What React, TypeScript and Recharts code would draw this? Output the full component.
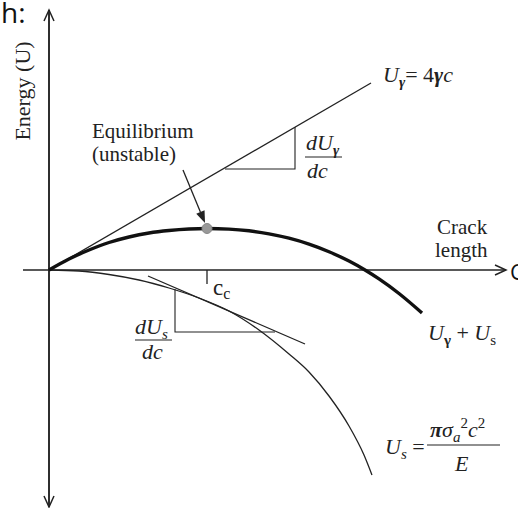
import React from 'react';
import { ComposedChart, Line, XAxis, YAxis, ReferenceLine, ReferenceDot } from 'recharts';

// Crack length c (arbitrary units) and energy U for each curve
const surfaceLineC = [0, 32.2];
const surfaceLineU = [0, 18.7];

const totalC = [0, 2, 4, 6, 8, 10, 12, 14, 15.8, 18, 20, 22, 24, 26, 28, 30, 31.6, 33, 35, 37.3];
const totalU = [0, 1.1, 2.0, 2.75, 3.3, 3.7, 3.95, 4.1, 4.15, 4.09, 3.92, 3.62, 3.18, 2.59, 1.83, 0.89, 0, -0.89, -2.35, -4.3];

const strainC = [0, 3, 6, 9, 12, 15, 18, 21, 24, 26, 28, 30, 31.5, 32.3];
const strainU = [0, -0.1, -0.45, -1.0, -1.8, -2.8, -4.1, -6.0, -8.4, -10.2, -12.6, -15.6, -18.5, -20.5];

// tangent to U_s near the critical length
const tangentC = [9.9, 25.6];
const tangentU = [-0.6, -7.4];

// slope triangles
const strainTriC = [12.6, 12.6, 22.6];
const strainTriU = [-1.9, -6.2, -6.2];
const surfaceTriC = [17.6, 24.6, 24.6];
const surfaceTriU = [10.1, 10.1, 14.3];

const criticalC = 15.8;
const criticalU = 4.15;

const zip = (xs: number[], ys: number[]) => xs.map((x, i) => ({ x, y: ys[i] }));

const INK = '#222';
const SERIF = '"Liberation Serif", "Times New Roman", serif';

type Pt = { x1: number; y1: number; x2: number; y2: number };

const arrowShape = (filled: boolean, len: number, half: number) => (p: any) => {
  const { x1, y1, x2, y2 } = p as Pt;
  const a = Math.atan2(y2 - y1, x2 - x1);
  const bx = x2 - len * Math.cos(a);
  const by = y2 - len * Math.sin(a);
  const nx = -Math.sin(a) * half;
  const ny = Math.cos(a) * half;
  return (
    <g>
      <line x1={x1} y1={y1} x2={filled ? bx : x2} y2={filled ? by : y2} stroke={INK} strokeWidth={filled ? 1.3 : 1.5} />
      {filled ? (
        <polygon points={`${x2},${y2} ${bx + nx},${by + ny} ${bx - nx},${by - ny}`} fill={INK} />
      ) : (
        <polyline points={`${bx + nx},${by + ny} ${x2},${y2} ${bx - nx},${by - ny}`} fill="none" stroke={INK} strokeWidth={1.5} />
      )}
    </g>
  );
};

const note = (key: string, x: number, y: number, draw: (cx: number, cy: number) => React.ReactNode) => (
  <ReferenceDot
    key={key}
    x={x}
    y={y}
    r={0}
    ifOverflow="visible"
    shape={(p: any) => <g>{draw(p.cx, p.cy)}</g>}
  />
);

const seg = (key: string, a: { x: number; y: number }, b: { x: number; y: number }, w = 1.2) => (
  <ReferenceLine key={key} segment={[a, b]} stroke={INK} strokeWidth={w} ifOverflow="visible" />
);

export default function App() {
  return (
    <div style={{ position: 'absolute', left: 0, top: 0, width: 518, height: 508, background: '#fff' }}>
      <ComposedChart width={518} height={508} margin={{ top: 5, right: 9, bottom: 0, left: 19 }}>
        <XAxis type="number" dataKey="x" domain={[-3, 46]} allowDataOverflow hide />
        <YAxis type="number" dataKey="y" domain={[-23.8, 26.5]} allowDataOverflow hide />

        {/* axes with open arrowheads */}
        <ReferenceLine segment={[{ x: -2.6, y: 0 }, { x: 45.7, y: 0 }]} shape={arrowShape(false, 11, 5)} ifOverflow="visible" />
        <ReferenceLine segment={[{ x: 0, y: -23.7 }, { x: 0, y: 26 }]} shape={arrowShape(false, 11, 5)} ifOverflow="visible" />
        <ReferenceLine segment={[{ x: 0, y: 26 }, { x: 0, y: -23.7 }]} shape={arrowShape(false, 11, 5)} ifOverflow="visible" />

        <Line data={zip(surfaceLineC, surfaceLineU)} dataKey="y" type="linear" stroke={INK} strokeWidth={1.3} dot={false} isAnimationActive={false} />
        <Line data={zip(strainC, strainU)} dataKey="y" type="monotone" stroke={INK} strokeWidth={1.3} dot={false} isAnimationActive={false} />
        <Line data={zip(tangentC, tangentU)} dataKey="y" type="linear" stroke={INK} strokeWidth={1.3} dot={false} isAnimationActive={false} />
        <Line data={zip(strainTriC, strainTriU)} dataKey="y" type="linear" stroke={INK} strokeWidth={1.1} dot={false} isAnimationActive={false} />
        <Line data={zip(surfaceTriC, surfaceTriU)} dataKey="y" type="linear" stroke={INK} strokeWidth={1.1} dot={false} isAnimationActive={false} />
        <Line data={zip(totalC, totalU)} dataKey="y" type="monotone" stroke="#111" strokeWidth={3.4} dot={false} isAnimationActive={false} />

        {/* critical crack length tick */}
        {seg('cc', { x: criticalC, y: 0 }, { x: criticalC, y: -1.4 }, 1.3)}

        {/* equilibrium point and pointer */}
        <ReferenceDot x={criticalC} y={criticalU} r={5} fill="#999" stroke="#888" strokeWidth={1} ifOverflow="visible" />
        <ReferenceLine segment={[{ x: 13.4, y: 10.0 }, { x: 15.6, y: 4.7 }]} shape={arrowShape(true, 12, 4.5)} ifOverflow="visible" />

        {/* fraction bars */}
        {seg('barG', { x: 25.6, y: 11.3 }, { x: 29.3, y: 11.3 }, 1.1)}
        {seg('barS', { x: 8.6, y: -7.0 }, { x: 12.3, y: -7.0 }, 1.1)}
        {seg('barE', { x: 37.8, y: -17.5 }, { x: 45.1, y: -17.5 }, 1.2)}

        {note('ylab', -2.7, 17.9, (cx, cy) => (
          <text x={cx} y={cy} transform={`rotate(-90 ${cx} ${cy})`} textAnchor="middle" dominantBaseline="central" fontFamily={SERIF} fontSize={22} fill={INK}>
            Energy (U)
          </text>
        ))}

        {note('ug', 33.4, 18.8, (cx, cy) => (
          <text x={cx} y={cy} fontFamily={SERIF} fontSize={22} fill={INK}>
            <tspan fontStyle="italic">U</tspan>
            <tspan fontStyle="italic" fontWeight="bold" fontSize={15} dy={5}>γ</tspan>
            <tspan dy={-5}>= 4</tspan>
            <tspan fontStyle="italic" fontWeight="bold">γ</tspan>
            <tspan fontStyle="italic">c</tspan>
          </text>
        ))}

        {note('eq1', 4.3, 13.2, (cx, cy) => (
          <text x={cx} y={cy} fontFamily={SERIF} fontSize={21} fill={INK}>Equilibrium</text>
        ))}
        {note('eq2', 4.3, 10.9, (cx, cy) => (
          <text x={cx} y={cy} fontFamily={SERIF} fontSize={21} fill={INK}>(unstable)</text>
        ))}

        {note('dug', 25.7, 12.0, (cx, cy) => (
          <text x={cx} y={cy} fontFamily={SERIF} fontSize={22} fill={INK} fontStyle="italic">
            <tspan>dU</tspan>
            <tspan fontSize={15} fontWeight="bold" dy={5}>γ</tspan>
          </text>
        ))}
        {note('dcg', 25.8, 9.2, (cx, cy) => (
          <text x={cx} y={cy} fontFamily={SERIF} fontSize={22} fill={INK} fontStyle="italic">dc</text>
        ))}

        {note('crack', 38.8, 3.6, (cx, cy) => (
          <text x={cx} y={cy} fontFamily={SERIF} fontSize={21} fill={INK}>Crack</text>
        ))}
        {note('length', 38.6, 1.3, (cx, cy) => (
          <text x={cx} y={cy} fontFamily={SERIF} fontSize={21} fill={INK}>length</text>
        ))}

        {note('ccl', 16.4, -2.5, (cx, cy) => (
          <text x={cx} y={cy} fontFamily={SERIF} fontSize={23} fill={INK}>
            <tspan>c</tspan>
            <tspan fontSize={16} dy={4}>c</tspan>
          </text>
        ))}

        {note('dus', 8.6, -6.4, (cx, cy) => (
          <text x={cx} y={cy} fontFamily={SERIF} fontSize={22} fill={INK} fontStyle="italic">
            <tspan>dU</tspan>
            <tspan fontSize={15} dy={5}>s</tspan>
          </text>
        ))}
        {note('dcs', 9.3, -8.9, (cx, cy) => (
          <text x={cx} y={cy} fontFamily={SERIF} fontSize={22} fill={INK} fontStyle="italic">dc</text>
        ))}

        {note('sum', 37.9, -7.0, (cx, cy) => (
          <text x={cx} y={cy} fontFamily={SERIF} fontSize={22} fill={INK}>
            <tspan fontStyle="italic">U</tspan>
            <tspan fontSize={15} fontWeight="bold" dy={5}>γ</tspan>
            <tspan dy={-5}> + </tspan>
            <tspan fontStyle="italic">U</tspan>
            <tspan fontSize={15} dy={5}>s</tspan>
          </text>
        ))}

        {note('usl', 33.6, -18.4, (cx, cy) => (
          <text x={cx} y={cy} fontFamily={SERIF} fontSize={22} fill={INK}>
            <tspan fontStyle="italic">U</tspan>
            <tspan fontStyle="italic" fontSize={15} dy={5}>s</tspan>
            <tspan dy={-5}> =</tspan>
          </text>
        ))}
        {note('usn', 38.1, -16.7, (cx, cy) => (
          <text x={cx} y={cy} fontFamily={SERIF} fontSize={22} fill={INK}>
            <tspan fontStyle="italic" fontWeight="bold">π</tspan>
            <tspan fontStyle="italic">σ</tspan>
            <tspan fontStyle="italic" fontSize={15} dy={5}>a</tspan>
            <tspan fontSize={15} dy={-14}>2</tspan>
            <tspan fontStyle="italic" dy={9}>c</tspan>
            <tspan fontSize={15} dy={-9}>2</tspan>
          </text>
        ))}
        {note('use', 40.6, -20.1, (cx, cy) => (
          <text x={cx} y={cy} fontFamily={SERIF} fontSize={22} fill={INK} fontStyle="italic">E</text>
        ))}
      </ComposedChart>
      <svg width={518} height={508} style={{ position: 'absolute', left: 0, top: 0, pointerEvents: 'none' }}>
        <text x={1} y={23} fontFamily='"Open Sans", sans-serif' fontSize={28} fill="#111">h:</text>
        <text x={510} y={280} fontFamily='"Open Sans", sans-serif' fontSize={22} fill="#111">C</text>
      </svg>
    </div>
  );
}
